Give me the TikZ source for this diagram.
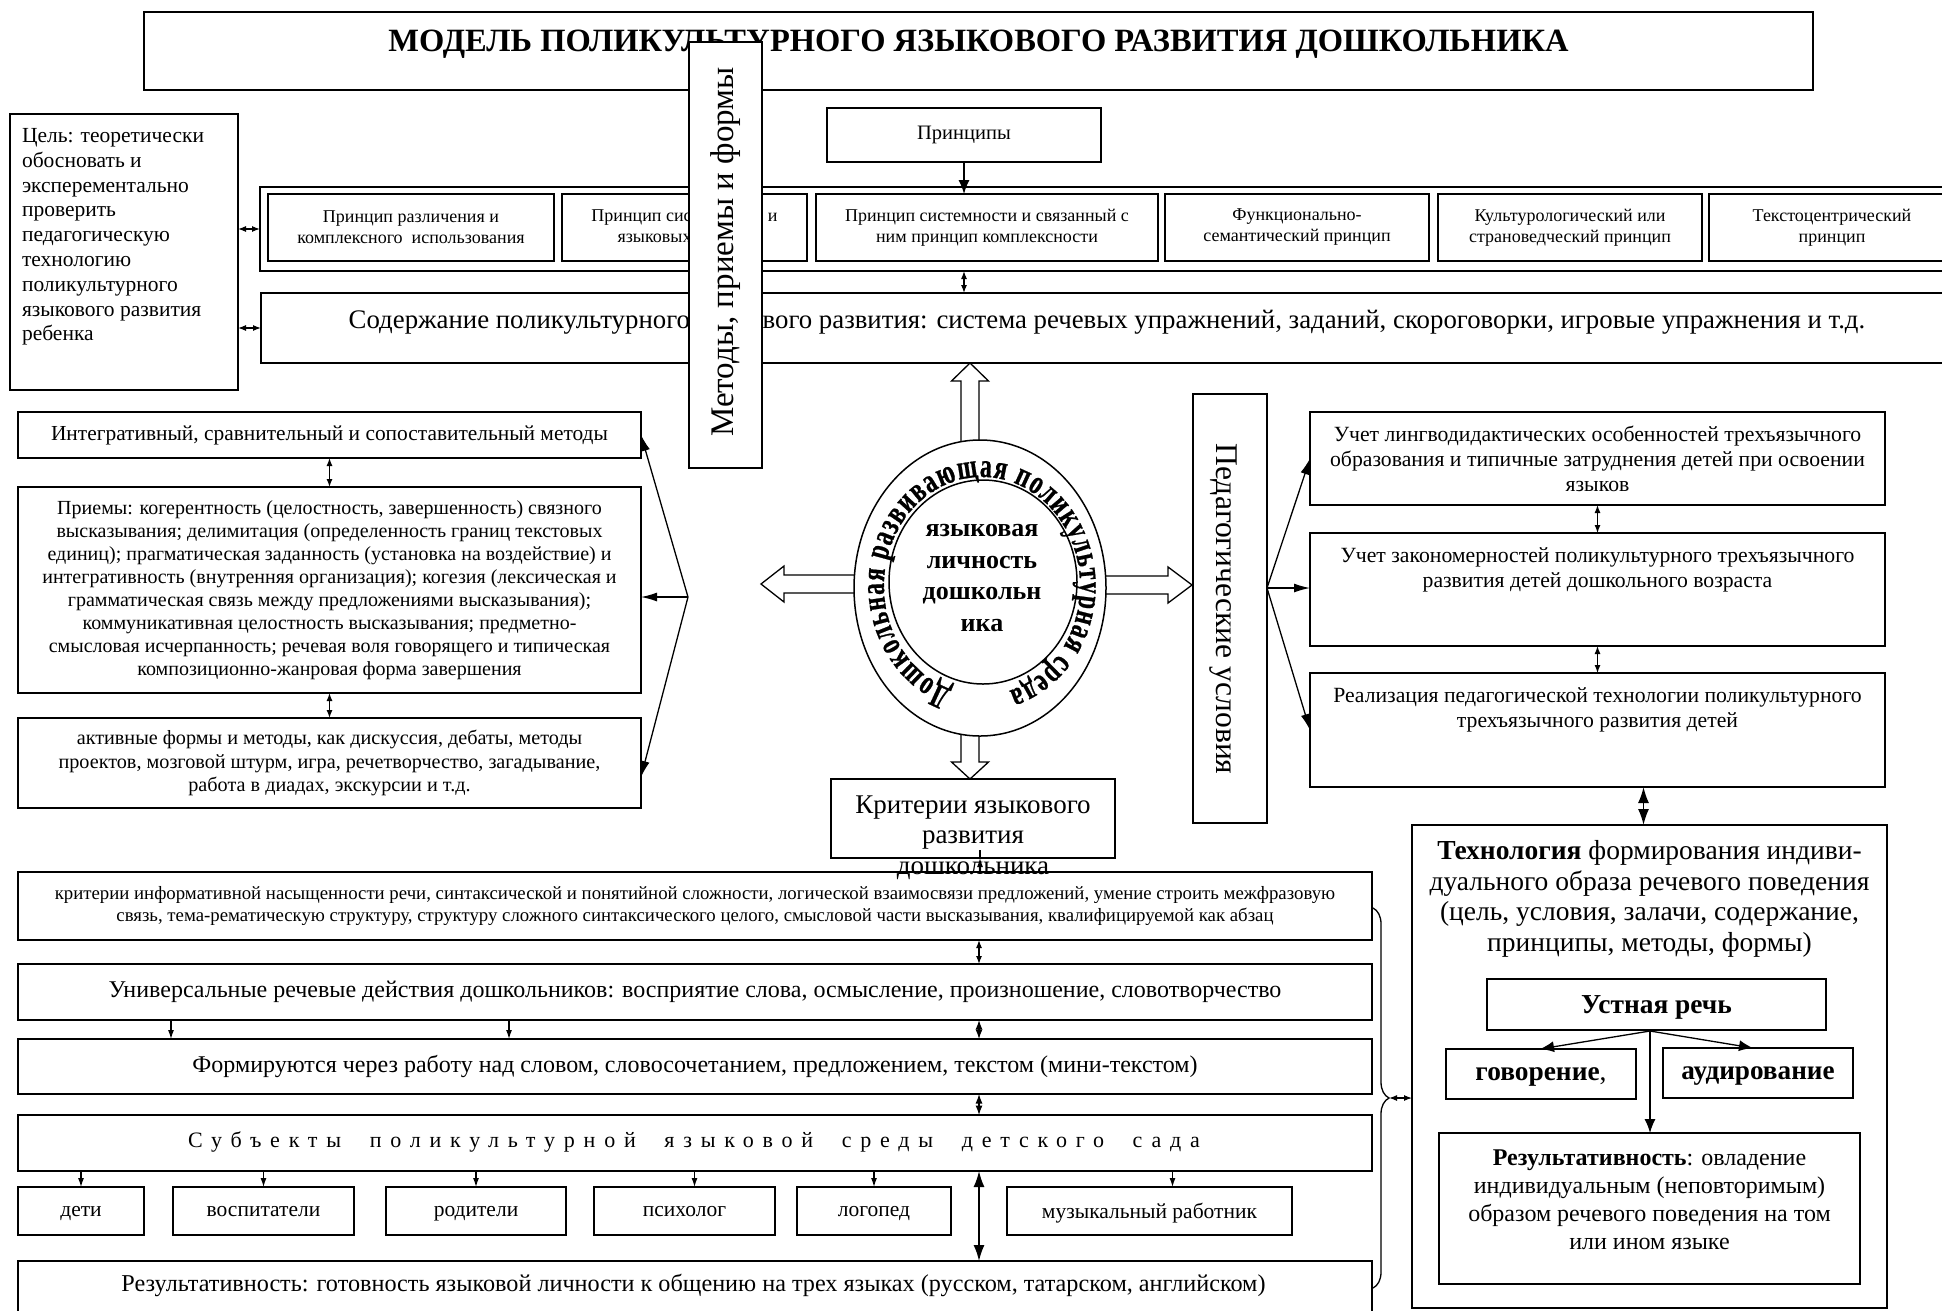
\documentclass[tikz,border=0pt]{standalone}
\usepackage{fontspec}
\setmainfont{Liberation Serif}
\newfontfamily\ellf[FakeStretch=0.7,FakeBold=0.6]{Liberation Serif}
\usetikzlibrary{arrows.meta,calc,decorations.text,decorations.pathreplacing,shapes.geometric}
\newcommand\fsz[2]{\fontsize{#1pt}{#2pt}\selectfont}
\begin{document}
\begin{tikzpicture}[x=1pt,y=-1pt,
 bx/.style={draw, line width=1.5pt, fill=white, inner sep=0pt, outer sep=0pt, align=center, anchor=north west},
 tx/.style={inner sep=0pt, outer sep=0pt, align=center},
 pb/.style={bx, minimum height=67, font=\fsz{18}{21}},
 lb/.style={bx, minimum width=623},
 rb/.style={bx, minimum width=575},
 sb/.style={bx, minimum height=48, text depth=0pt, font=\fsz{21.5}{24}},
 wb/.style={bx, minimum width=1354},
 arS/.style={line width=1.2pt, -{Latex[length=9pt,width=6pt]}},
 arM/.style={line width=1.3pt, -{Latex[length=14pt,width=11pt]}},
 arF/.style={line width=1.3pt, -{Latex[length=16pt,width=9pt]}},
 darS/.style={line width=1.2pt, {Latex[length=8pt,width=6pt]}-{Latex[length=8pt,width=6pt]}},
 darD/.style={line width=1.2pt, {Latex[length=9.5pt,width=7pt]}-{Latex[length=9.5pt,width=7pt]}},
 darL/.style={line width=1.6pt, {Latex[length=16pt,width=11pt]}-{Latex[length=16pt,width=11pt]}},
 hol/.style={draw, line width=1.3pt, fill=white, line join=miter}
]
\useasboundingbox (0,0) rectangle (1942,1310);
\clip (0,0) rectangle (1942,1310);
\fill[white] (0,0) rectangle (1942,1310);

% title
\node[bx, minimum width=1669, minimum height=78] (title) at (144,12) {};
\node[tx, font=\bfseries\fsz{32.5}{36}] (titleT) at (978.5,44) {МОДЕЛЬ ПОЛИКУЛЬТУРНОГО ЯЗЫКОВОГО РАЗВИТИЯ ДОШКОЛЬНИКА};

% goal
\node[bx, minimum width=228, minimum height=276] (goal) at (10,114) {};
\node[tx, anchor=west, align=left, font=\fsz{21.5}{24.8}] (goalT) at (22,237) {Цель: теоретически\\обосновать и\\эксперементально\\проверить\\педагогическую\\технологию\\поликультурного\\языкового развития\\ребенка};

% principles
\node[bx, minimum width=274, minimum height=54, font=\fsz{20.5}{24}] (princ) at (827,108) {Принципы};
\node[bx, fill=none, minimum width=1720, minimum height=84] (band) at (260,187) {};
\node[pb, minimum width=286] (p1) at (268,194) {Принцип различения и\\комплексного\ \ использования};
\node[pb, minimum width=245] (p2) at (562,194) {Принцип системности и\\языковых единиц};
\node[pb, minimum width=342] (p3) at (816,194) {Принцип системности и связанный с\\ним принцип комплексности};
\node[pb, minimum width=264] (p4) at (1165,194) {Функционально-\\семантический принцип};
\node[pb, minimum width=264] (p5) at (1438,194) {Культурологический или\\страноведческий принцип};
\node[pb, minimum width=246] (p6) at (1709,194) {Текстоцентрический\\принцип};

% content
\node[bx, minimum width=1720, minimum height=70] (soder) at (261,293) {};
\node[tx, font=\fsz{26.8}{30}] (soderT) at (1107,322) {Содержание поликультурного языкового развития: система речевых упражнений, заданий, скороговорки, игровые упражнения и т.д.};

\draw[arM] (princ.south) -- (princ.south |- p3.north);
\draw[darS] (princ.south |- band.south) -- (princ.south |- soder.north);
\draw[darS] (band.west -| goal.east) -- (band.west);
\draw[darS] (soder.west -| goal.east) -- (soder.west);

% methods
\node[bx, minimum width=73, minimum height=426] (metody) at (689,42) {};
\node[tx, rotate=90, font=\fsz{33}{36}] (metodyT) at (725.5,252) {Методы, приемы и формы};

\node[lb, minimum height=46, font=\fsz{21.4}{25}] (int) at (18,412) {Интегративный, сравнительный и сопоставительный методы};
\node[lb, minimum height=206, font=\fsz{20}{23}] (priemy) at (18,487) {Приемы: когерентность (целостность, завершенность) связного\\высказывания; делимитация (определенность границ текстовых\\единиц); прагматическая заданность (установка на воздействие) и\\интегративность (внутренняя организация); когезия (лексическая и\\грамматическая связь между предложениями высказывания);\\коммуникативная целостность высказывания; предметно-\\смысловая исчерпанность; речевая воля говорящего и типическая\\композиционно-жанровая форма завершения};
\node[lb, minimum height=90, font=\fsz{20.2}{23.5}] (akt) at (18,718) {активные формы и методы, как дискуссия, дебаты, методы\\проектов, мозговой штурм, игра, речетворчество, загадывание,\\работа в диадах, экскурсии и т.д.};
\draw[darS] (int.south) -- (priemy.north);
\draw[darS] (priemy.south) -- (akt.north);
\coordinate (fanL) at (688,597);
\draw[arF] (fanL) -- (int.east);
\draw[arF] (fanL) -- (fanL -| priemy.east);
\draw[arF] (fanL) -- ([yshift=-14pt]akt.east);

% hollow arrows
\draw[hol] (961,470) -- (961,381) -- (951.5,381) -- (970,363) -- (988.5,381) -- (979,381) -- (979,470) -- cycle;
\draw[hol] (870,575) -- (784,575) -- (784,566) -- (761,584) -- (784,602) -- (784,593) -- (870,593) -- cycle;
\draw[hol] (1090,576) -- (1168,576) -- (1168,567) -- (1192,585) -- (1168,603) -- (1168,594) -- (1090,594) -- cycle;
\draw[hol] (961,700) -- (961,762) -- (951.5,762) -- (970,779) -- (988.5,762) -- (979,762) -- (979,700) -- cycle;

% ellipses
\node[draw, ellipse, line width=1.5pt, fill=white, minimum width=252, minimum height=296, inner sep=0pt] (env) at (980,588) {};
\node[draw, ellipse, line width=1.5pt, fill=white, minimum width=188, minimum height=204, inner sep=0pt] (lichn) at (983,582) {};
\node[tx, font=\bfseries\fsz{26}{31.5}] (lichnT) at (982,578) {языковая\\личность\\дошкольн\\ика};
\path[decorate, decoration={text along path, text={|\ellf\bfseries\fsz{34}{34}|Дошкольная развивающая поликультурная среда}, text align={fit to path}}]
  ([shift={(-252:98 and 109)}]982,586) arc[start angle=-252, end angle=74, x radius=98, y radius=109];

% pedagogical conditions
\node[bx, minimum width=74, minimum height=429] (ped) at (1193,394) {};
\node[tx, rotate=-90, font=\fsz{31.6}{34}] (pedT) at (1223,609) {Педагогические условия};
\node[rb, minimum height=93, font=\fsz{21.7}{25}] (r1) at (1310,412) {Учет лингводидактических особенностей трехъязычного\\образования и типичные затруднения детей при освоении\\языков};
\node[rb, minimum height=113] (r2) at (1310,533) {};
\node[tx, font=\fsz{21.7}{25}] (r2T) at (1597.5,569.5) {Учет закономерностей поликультурного трехъязычного\\развития детей дошкольного возраста};
\node[rb, minimum height=114] (r3) at (1310,673) {};
\node[tx, font=\fsz{21.7}{25}] (r3T) at (1597.5,710) {Реализация педагогической технологии поликультурного\\трехъязычного развития детей};
\coordinate (fanR) at (1267,588);
\draw[arF] (fanR) -- (r1.west);
\draw[arF] (fanR) -- (fanR -| r2.west);
\draw[arF] (fanR) -- (r3.west);
\draw[darS] (r1.south) -- (r2.north);
\draw[darS] (r2.south) -- (r3.north);

% criteria
\node[bx, minimum width=284, minimum height=79] (krit) at (831,779) {};
\node[wb, fill=none, minimum height=68, font=\fsz{18.8}{22.3}] (kb) at (18,872) {критерии информативной насыщенности речи, синтаксической и понятийной сложности, логической взаимосвязи предложений, умение строить межфразовую\\связь, тема-рематическую структуру, структуру сложного синтаксического целого, смысловой части высказывания, квалифицируемой как абзац};
\node[tx, font=\fsz{27}{30.5}] (kritT) at (973,837.5) {Критерии языкового\\развития\\дошкольника};
\coordinate (ax) at (979,0);
\draw[arS] ($(krit.south)+(7,0)$) -- ($(krit.south)+(7,0)$ |- kb.north);

\node[wb, minimum height=56, font=\fsz{24}{26}] (univ) at (18,964) {Универсальные речевые действия дошкольников: восприятие слова, осмысление, произношение, словотворчество};
\node[wb, minimum height=55, font=\fsz{24}{27}] (form) at (18,1039) {Формируются через работу над словом, словосочетанием, предложением, текстом (мини-текстом)};
\node[wb, minimum height=56] (subj) at (18,1115) {};
\node[tx, font=\fsz{22}{26}\addfontfeature{LetterSpace=40}] (subjT) at (694,1142) {Субъекты\ \ поликультурной\ \ языковой\ \ среды\ \ детского\ \ сада};
\node[wb, minimum height=80] (rez) at (18,1261) {};
\node[tx, font=\fsz{24.2}{27}] (rezT) at (693.5,1285) {Результативность: готовность языковой личности к общению на трех языках (русском, татарском, английском)};

\draw[darS] (kb.south -| ax) -- (univ.north -| ax);
\coordinate (a1) at (171,0);
\coordinate (a2) at (509,0);
\draw[arS] (univ.south -| a1) -- (form.north -| a1);
\draw[arS] (univ.south -| a2) -- (form.north -| a2);
\draw[darD] (univ.south -| ax) -- (form.north -| ax);
\draw[darD] (form.south -| ax) -- (subj.north -| ax);

\node[sb, minimum width=126] (deti) at (18,1187) {дети};
\node[sb, minimum width=181] (vosp) at (173,1187) {воспитатели};
\node[sb, minimum width=180] (rod) at (386,1187) {родители};
\node[sb, minimum width=181] (psih) at (594,1187) {психолог};
\node[sb, minimum width=154] (logo) at (797,1187) {логопед};
\node[sb, minimum width=285] (muz) at (1007,1187) {музыкальный работник};
\draw[arS] (subj.south -| deti.north) -- (deti.north);
\draw[arS] (subj.south -| vosp.north) -- (vosp.north);
\draw[arS] (subj.south -| rod.north) -- (rod.north);
\draw[arS] ($(subj.south -| psih.north)+(10,0)$) -- ($(psih.north)+(10,0)$);
\draw[arS] (subj.south -| logo.north) -- (logo.north);
\draw[arS] ($(subj.south -| muz.north)+(23,0)$) -- ($(muz.north)+(23,0)$);
\draw[darL] (subj.south -| ax) -- (rez.north -| ax);

% brace
\draw[line width=1.3pt, decorate, decoration={brace, amplitude=16pt}] (1373,908) -- (1373,1288);

% technology
\node[bx, minimum width=475, minimum height=483] (tech) at (1412,825) {};
\node[tx, font=\fsz{27.5}{30.5}] (techT) at (1649.5,899) {\textbf{Технология} формирования индиви-\\дуального образа речевого поведения\\(цель, условия, залачи, содержание,\\принципы, методы, формы)};
\node[bx, minimum width=339, minimum height=51, text depth=0pt, font=\bfseries\fsz{27.4}{30}] (ustn) at (1487,979) {Устная речь};
\node[bx, minimum width=190, minimum height=50, text depth=0pt, font=\fsz{27.4}{30}] (govor) at (1446,1049) {\textbf{говорение},};
\node[bx, minimum width=190, minimum height=50, text depth=0pt, font=\bfseries\fsz{27.2}{30}] (aud) at (1663,1048) {аудирование};
\node[bx, minimum width=421, minimum height=151] (rezt) at (1439,1133) {};
\node[tx, font=\fsz{24}{28}] (reztT) at (1649.5,1200) {\textbf{Результативность}: овладение\\индивидуальным (неповторимым)\\образом речевого поведения на том\\или ином языке};
\coordinate (uo) at (1650,1031);
\draw[arM] (uo) -- ($(govor.north)+(-1,0)$);
\draw[arM] (uo) -- ($(aud.north)+(-5,0)$);
\draw[arM] (uo) -- (uo |- rezt.north);
\draw[darL] ($(r3.south -| tech.north)+(-6,0)$) -- ($(tech.north)+(-6,0)$);
\coordinate (brtip) at (1389,1098);
\draw[darS] (brtip) -- (brtip -| tech.west);
\end{tikzpicture}
\end{document}
